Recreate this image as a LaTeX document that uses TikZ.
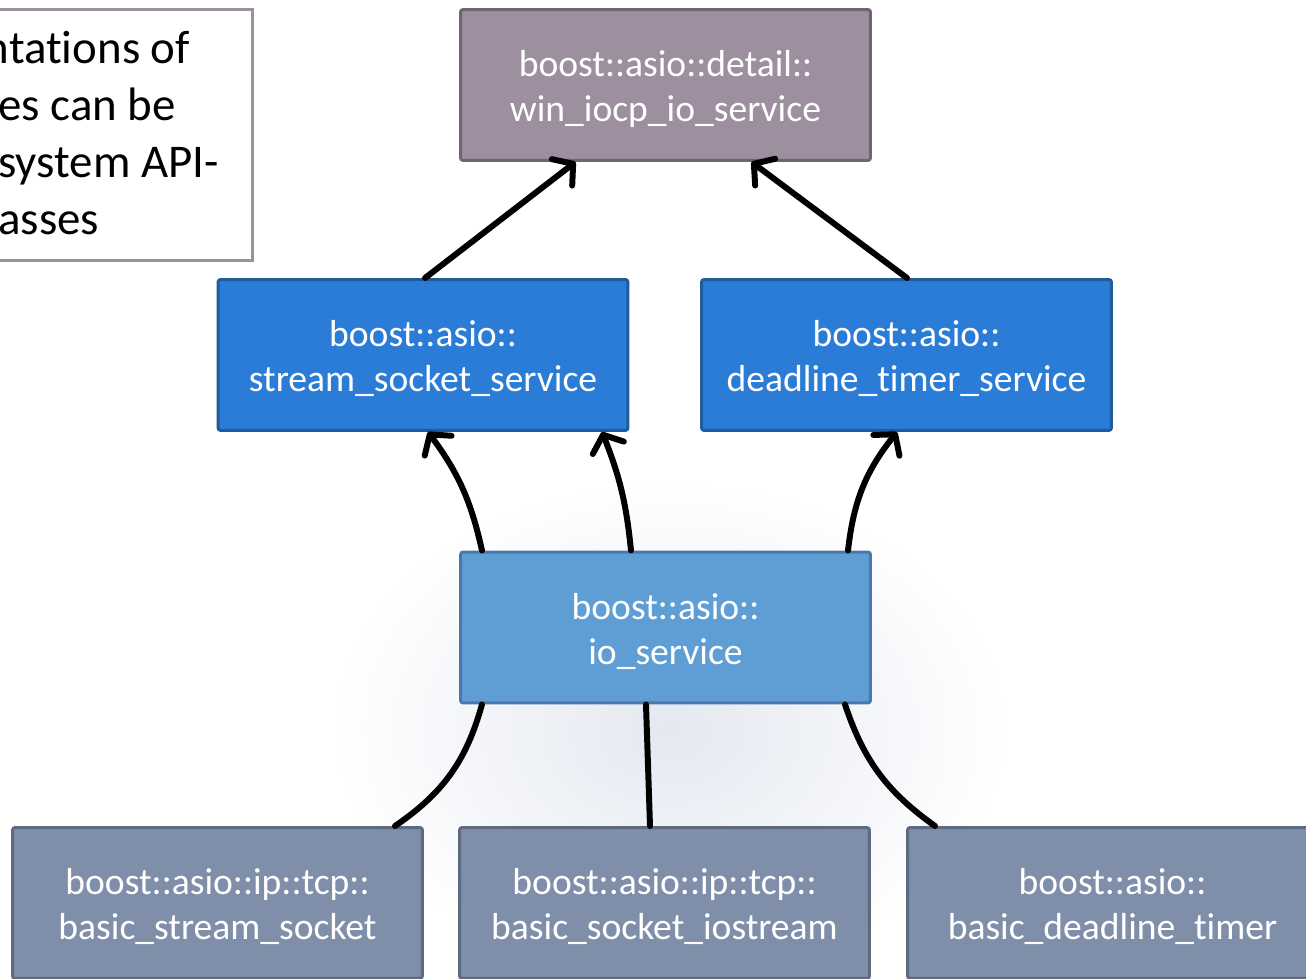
\documentclass[tikz,border=0pt]{standalone}
\usepackage{fontspec}
\setmainfont{Carlito}[RawFeature={-liga;-dlig;-clig;-calt}]
\usetikzlibrary{arrows.meta,calc}

\definecolor{iocpfill}{HTML}{9D8FA0}
\definecolor{iocpline}{HTML}{6F6571}
\definecolor{svcfill}{HTML}{2B7CD6}
\definecolor{svcline}{HTML}{1F5C9E}
\definecolor{iofill}{HTML}{5F9ED4}
\definecolor{ioline}{HTML}{4A78AA}
\definecolor{basicfill}{HTML}{7F8EA9}
\definecolor{basicline}{HTML}{5D6A80}
\definecolor{haze}{HTML}{E4E8F0}

% strut that lowers the two-line labels slightly inside their boxes
\newcommand\labelstrut{\rule{0pt}{19pt}}

\tikzset{
  classbox/.style={draw, line width=1.7pt, rounded corners=1.5pt,
    minimum width=8.2cm, minimum height=3.02cm, inner sep=0pt,
    text=white, align=center, font=\fontsize{21.4}{25.6}\selectfont},
  iocpbox/.style={classbox, fill=iocpfill, draw=iocpline},
  svcbox/.style={classbox, fill=svcfill, draw=svcline},
  iobox/.style={classbox, fill=iofill, draw=ioline},
  basicbox/.style={classbox, fill=basicfill, draw=basicline},
  conn/.style={line width=3.4pt, black, line cap=round},
  uses/.style={conn, -{Straight Barb[round, length=8pt, width=19pt]}},
}

\begin{document}
\begin{tikzpicture}[x=0.02cm, y=-0.02cm]
\useasboundingbox (0,0) rectangle (1306,979);
\clip (0,0) rectangle (1306,979);
\fill[white] (0,0) rectangle (1306,979);

% faint backdrop behind the lower half
\shade[inner color=haze, outer color=white] (330,480) rectangle (1010,980);

% note on the left edge
\node[draw=iocpfill, fill=white, line width=1.7pt, minimum width=9cm,
      minimum height=5.02cm, anchor=north east, inner sep=0pt]
      (notebox) at (254,8) {};
\node[anchor=north west, align=left, inner sep=0pt,
      font=\fontsize{26.7}{32.4}\selectfont] (note) at (-2,31)
      {\hspace*{-0.27cm}ntations of\\es can be\\system API-\\asses};

% class boxes
\node[iocpbox]  (win) at (665.5,85)  {\labelstrut boost::asio::detail::\\win\_iocp\_io\_service};
\node[svcbox]   (sss) at (423,355)   {\labelstrut boost::asio::\\stream\_socket\_service};
\node[svcbox]   (dts) at (906.5,355) {\labelstrut boost::asio::\\deadline\_timer\_service};
\node[iobox]    (io)  at (665.5,627.5) {\labelstrut boost::asio::\\io\_service};
\node[basicbox] (bss) at (217.5,903) {\labelstrut boost::asio::ip::tcp::\\basic\_stream\_socket};
\node[basicbox] (bsi) at (664.5,903) {\labelstrut boost::asio::ip::tcp::\\basic\_socket\_iostream};
\node[basicbox] (bdt) at (1112.5,903) {\labelstrut boost::asio::\\basic\_deadline\_timer};

% services depend on the platform implementation
\draw[uses] ($(sss.north)+(2,0)$) -- ($(win.south)+(-90,0)$);
\draw[uses] ($(dts.north)+(0.5,0)$) -- ($(win.south)+(86,0)$);

% io_service owns the services
\draw[uses] ($(io.north)+(-183.5,0)$) to[bend right=12] ($(sss.south)+(5,0)$);
\draw[uses] ($(io.north)+(-34.5,0)$) to[bend right=8] ($(sss.south)+(179,0)$);
\draw[uses] ($(io.north)+(182.5,0)$) to[bend left=16] ($(dts.south)+(-9.5,0)$);

% I/O objects refer to io_service
\draw[conn] ($(bss.north)+(177.5,0)$) to[bend right=20] ($(io.south)+(-183.5,0)$);
\draw[conn] ($(bsi.north)+(-14.5,0)$) -- ($(io.south)+(-19.5,0)$);
\draw[conn] ($(bdt.north)+(-177.5,0)$) to[bend left=18] ($(io.south)+(179.5,0)$);
\end{tikzpicture}
\end{document}
